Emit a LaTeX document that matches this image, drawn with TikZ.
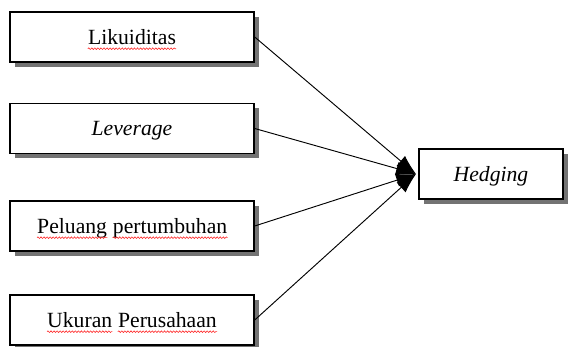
\documentclass[tikz,border=0pt]{standalone}
\usepackage{fontspec}
\setmainfont{Liberation Serif}
\usepackage{tikz}
\usetikzlibrary{positioning, shadows, arrows.meta, decorations.pathmorphing}

\begin{document}
\begin{tikzpicture}[x=0.03cm, y=-0.03cm,
    varbox/.style={draw, line width=1.2pt, fill=white, minimum width=7.32cm, minimum height=1.5cm,
      drop shadow={shadow xshift=0.15cm, shadow yshift=-0.15cm, fill=black!55, opacity=1}},
    word/.style={inner sep=0pt, font=\fontsize{18.5}{22}\selectfont},
    wavy/.style={red!85, line width=0.5pt, decorate, decoration={snake, amplitude=0.7pt, segment length=2.6pt}},
    link/.style={line width=0.8pt, -{Latex[length=6mm, width=4mm]}}]
  \useasboundingbox (0,0) rectangle (569,347);
  % independent variables
  \node[varbox] (lik) at (132,37) {};
  \node[varbox] (lev) at (132,128.5) {};
  \node[varbox] (pel) at (132,226) {};
  \node[varbox] (uku) at (132,320) {};
  % labels
  \node[word, anchor=base] (likt) at ([yshift=-6pt]lik.center) {Likuiditas};
  \node[word, anchor=base] (levt) at ([yshift=-6pt]lev.center) {\textit{Leverage}};
  \node[word, anchor=base west] (pel1) at (37,233) {Peluang};
  \node[word, anchor=base west] (pel2) at ([xshift=4.6pt]pel1.base east) {pertumbuhan};
  \node[word, anchor=base west] (uku1) at (47,327) {Ukuran};
  \node[word, anchor=base west] (uku2) at ([xshift=4.6pt]uku1.base east) {Perusahaan};
  % spelling marks
  \foreach \w in {likt, pel1, pel2, uku1, uku2}
    \draw[wavy] ([yshift=-4pt]\w.base west) -- ([yshift=-4pt]\w.base east);
  % dependent variable
  \node[varbox, minimum width=4.32cm] (hed) at (491,174) {};
  \node[word, anchor=base] (hedt) at ([yshift=-6pt]hed.center) {\textit{Hedging}};
  \coordinate (tip) at (416,174);
  \foreach \v in {lik, lev, pel, uku}
    \draw[link] (\v.east) -- (tip);
\end{tikzpicture}
\end{document}
